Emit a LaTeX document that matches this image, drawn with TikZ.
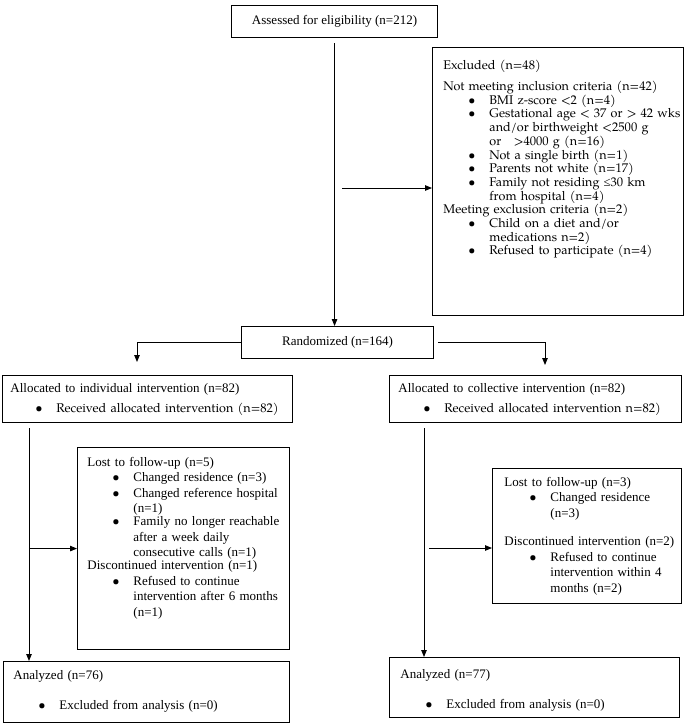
\documentclass[tikz,border=0pt]{standalone}
\usepackage{fontspec}
\setmainfont{Liberation Serif}
\newfontfamily\pal{texgyrepagella-regular.otf}
\usepackage{tikz}
\usetikzlibrary{arrows, arrows.meta,calc,positioning}
\newcommand{\tms}{\fontsize{13}{15.5}\selectfont}
\newcommand{\palsz}{\pal\fontsize{12.6}{13.67}\selectfont}
\newcommand{\fl}{\rule{0pt}{10pt}}
\newcommand{\bul}[1]{\hspace*{25pt}\makebox[21pt][l]{\pal\textbullet}\parbox[t]{250pt}{\raggedright #1}}
\tikzset{box/.style={draw,line width=1.1pt,inner sep=0pt,anchor=north west},
	txt/.style={anchor=north west,inner sep=0pt,align=left,text width=300pt}}

\begin{document}
\begin{tikzpicture}[x=1pt,y=-1pt,line width=0.9pt,>={Triangle[length=7pt,width=5.5pt]},font=\tms]
	\useasboundingbox (0,0) rectangle (685,723);
	
	\node[box,minimum width=206,minimum height=32] (assess) at (231,5) {Assessed for eligibility (n=212)};
	\node[box,minimum width=251,minimum height=268] (excl) at (432,47) {};
	\node[box,minimum width=192,minimum height=32] (rand) at (241,326) {Randomized (n=164)};
	
	\node[txt,font=\palsz] (exclTxt) at ($(excl.north west)+(11,12)$) {\fl Excluded (n=48)\\[7.3pt]
		Not meeting inclusion criteria (n=42)\\
		\bul{BMI z-score <2 (n=4)}\\
		\bul{Gestational age < 37 or > 42 wks\\ and/or birthweight <2500 g\\ or\ \ \ >4000 g (n=16)}\\
		\bul{Not a single birth (n=1)}\\
		\bul{Parents not white (n=17)}\\
		\bul{Family not residing {\rmfamily ≤}30 km\\ from hospital (n=4)}\\
		Meeting exclusion criteria (n=2)\\
		\bul{Child on a diet and/or\\ medications n=2)}\\
		\bul{Refused to participate (n=4)}};
	
	% allocation
	\node[box,minimum width=290,minimum height=47] (allocL) at (2,375) {};
	\node[box,minimum width=292,minimum height=47] (allocR) at (389,375) {};
	\node[txt] (allocLTxt) at ($(allocL.north west)+(8,7)$) {\fl Allocated to individual intervention (n=82)\\[4.5pt]
		\bul{\palsz Received allocated intervention (n=82)}};
	\node[txt] (allocRTxt) at ($(allocR.north west)+(9,7)$) {\fl Allocated to collective intervention (n=82)\\[4.5pt]
		\bul{\palsz Received allocated intervention n=82)}};
	
	% follow-up
	\node[box,minimum width=212,minimum height=202] (lostL) at (77,447) {};
	\node[box,minimum width=189,minimum height=135] (lostR) at (492,468) {};
	\node[txt] (lostLTxt) at ($(lostL.north west)+(10,9)$) {\fl Lost to follow-up (n=5)\\
		\bul{Changed residence (n=3)}\\
		\bul{Changed reference hospital\\ (n=1)}\\
		\bul{Family no longer reachable\\ after a week daily\\ consecutive calls (n=1)}\\
		Discontinued intervention (n=1)\\
		\bul{Refused to continue\\ intervention after 6 months\\ (n=1)}};
	\node[txt] (lostRTxt) at ($(lostR.north west)+(12,8)$) {\fl Lost to follow-up (n=3)\\
		\bul{Changed residence\\ (n=3)}\\[15.5pt]
		Discontinued intervention (n=2)\\
		\bul{Refused to continue\\ intervention within 4\\ months (n=2)}};
	
	% analysis
	\node[box,minimum width=286,minimum height=61] (anlzL) at (3,661) {};
	\node[box,minimum width=290,minimum height=60] (anlzR) at (389,657) {};
	\node[txt] (anlzLTxt) at ($(anlzL.north west)+(10,8)$) {\fl Analyzed (n=76)\\[14.5pt]
		\bul{Excluded from analysis (n=0)}};
	\node[txt] (anlzRTxt) at ($(anlzR.north west)+(11,11)$) {\fl Analyzed (n=77)\\[14.5pt]
		\bul{Excluded from analysis (n=0)}};
	
	\coordinate (exclIn) at (342,188);
	\coordinate (splitL) at (137,362);
	\coordinate (splitR) at (545,365);
	\coordinate (downL) at (29,428);
	\coordinate (downR) at (424,428);
	\coordinate (lostRIn) at (429,548);
	
	\path[->] ([yshift=-5pt]assess.south) edge (assess.south |- rand.north)
	(exclIn) edge (exclIn -| excl.west);
	
	\draw[->] (rand.west) -| (splitL);
	\draw[->] ([xshift=4pt]rand.east) -| (splitR);
	
	\path[->] (downL) edge (downL |- anlzL.north)
	(downL |- lostL.west) edge (lostL.west)
	(downR) edge (downR |- anlzR.north)
	(lostRIn) edge (lostRIn -| lostR.west);
\end{tikzpicture}
\end{document}
